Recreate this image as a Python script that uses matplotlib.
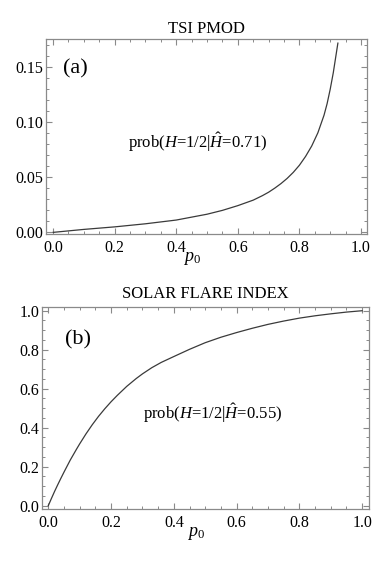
"""
Posterior probability prob(H=1/2 | H-hat) against the prior p0, for TSI PMOD and the solar flare index.
"""
from matplotlib import pyplot as plt
from matplotlib.ticker import MultipleLocator

plt.rcParams['font.family'] = ['Liberation Serif', 'DejaVu Serif']
plt.rcParams['mathtext.fontset'] = 'custom'
plt.rcParams['mathtext.rm'] = 'Liberation Serif'
plt.rcParams['mathtext.it'] = 'Liberation Serif:italic'

# values
p0_tsi = [0.0, 0.1, 0.2, 0.3, 0.4, 0.5, 0.55, 0.6, 0.65, 0.68, 0.7, 0.72, 0.74, 0.76, 0.78, 0.8,
          0.82, 0.84, 0.86, 0.88, 0.89, 0.9, 0.91, 0.92, 0.925]
prob_tsi = [0.0, 0.0027, 0.005, 0.0078, 0.0112, 0.0165, 0.020, 0.0243, 0.0293, 0.0334, 0.0365, 0.0402,
            0.0443, 0.049, 0.0545, 0.061, 0.069, 0.0785, 0.0905, 0.1065, 0.117, 0.130, 0.145, 0.163, 0.172]

p0_flare = [0.0, 0.01, 0.02, 0.03, 0.04, 0.05, 0.06, 0.07, 0.08, 0.09, 0.1, 0.12, 0.14, 0.16,
            0.18, 0.2, 0.22, 0.25, 0.28, 0.3, 0.33, 0.36, 0.4, 0.45, 0.5, 0.55, 0.6, 0.65,
            0.7, 0.75, 0.8, 0.85, 0.9, 0.95, 1.0]
prob_flare = [0.0, 0.037, 0.073, 0.107, 0.14, 0.172, 0.203, 0.234, 0.262, 0.29, 0.317, 0.368, 0.415, 0.458,
              0.497, 0.533, 0.566, 0.612, 0.652, 0.676, 0.708, 0.735, 0.765, 0.802, 0.836, 0.864, 0.888, 0.91,
              0.930, 0.947, 0.962, 0.974, 0.984, 0.993, 1.0]

titles = ["TSI PMOD", "SOLAR FLARE INDEX"]
panel_tags = ["(a)", "(b)"]
notes = [r"prob($H$=1/2|$\hat{H}$=0.71)", r"prob($H$=1/2|$\hat{H}$=0.55)"]

FRAME = '#8a8a8a'


def style_frame(ax, ymajor, yminor, ylabels):
    for sp in ax.spines.values():
        sp.set_color(FRAME)
        sp.set_linewidth(0.9)
    ax.xaxis.set_minor_locator(MultipleLocator(0.05))
    ax.yaxis.set_minor_locator(MultipleLocator(yminor))
    ax.set_xticks([0.0, 0.2, 0.4, 0.6, 0.8, 1.0])
    ax.set_xticklabels(["0.0", "0.2", "0.4", "0.6", "0.8", "1.0"])
    ax.set_yticks([i * ymajor for i in range(len(ylabels))])
    ax.set_yticklabels(ylabels)
    ax.tick_params(which='both', direction='in', top=True, right=True, color=FRAME,
                   labelsize=11.5, labelcolor='black')
    ax.tick_params(which='major', length=4, width=0.8)
    ax.tick_params(which='minor', length=2.2, width=0.7)
    ax.tick_params(axis='y', pad=2)
    ax.tick_params(axis='x', pad=4)


def main():
    fig = plt.figure(figsize=(3.85, 5.65), dpi=100)

    ax = fig.add_axes([0.1195, 0.5858, 0.8325, 0.3451])
    ax.plot(p0_tsi, prob_tsi, color='#3a3a3a', lw=0.9)
    ax.set_xlim(-0.023, 1.018)
    ax.set_ylim(-0.0015, 0.1757)
    style_frame(ax, 0.05, 0.01, ["0.00", "0.05", "0.10", "0.15"])
    ax.set_title(titles[0], fontsize=12, pad=4)
    ax.text(0.032, 0.149, panel_tags[0], fontsize=16, va='center')
    ax.text(0.244, 0.082, notes[0], fontsize=12, va='center')
    ax.set_xlabel(r"$p_{\mathit{0}}$", fontsize=13, va='center')
    ax.xaxis.set_label_coords(0.455, -0.125)

    ax = fig.add_axes([0.1091, 0.0991, 0.8494, 0.3575])
    ax.plot(p0_flare, prob_flare, color='#3a3a3a', lw=0.9)
    ax.set_xlim(-0.020, 1.022)
    ax.set_ylim(-0.017, 1.019)
    style_frame(ax, 0.2, 0.05, ["0.0", "0.2", "0.4", "0.6", "0.8", "1.0"])
    ax.set_title(titles[1], fontsize=12, pad=6.5)
    ax.text(0.053, 0.85, panel_tags[1], fontsize=16, va='center')
    ax.text(0.302, 0.475, notes[1], fontsize=12, va='center')
    ax.set_xlabel(r"$p_{\mathit{0}}$", fontsize=13, va='center')
    ax.xaxis.set_label_coords(0.47, -0.12)

    fig.savefig("out.png", dpi=100)


if __name__ == "__main__":
    main()
